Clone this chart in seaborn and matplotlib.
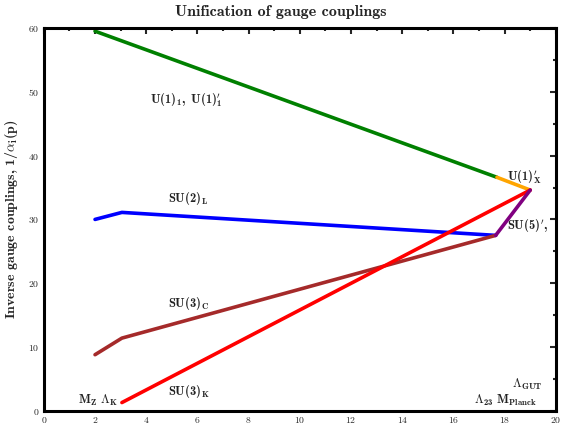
import matplotlib
matplotlib.use("Agg")
import matplotlib.pyplot as plt
import seaborn as sns
import pandas as pd
from matplotlib.ticker import MultipleLocator

sns.set_style("white")
plt.rcParams['font.family'] = ['serif']
plt.rcParams['font.serif'] = ['cmr10', 'DejaVu Serif']
plt.rcParams['mathtext.fontset'] = 'custom'
plt.rcParams['mathtext.rm'] = 'cmr10'
plt.rcParams['mathtext.it'] = 'cmmi10'
plt.rcParams['mathtext.bf'] = 'cmb10'
plt.rcParams['mathtext.fallback'] = 'cm'
plt.rcParams['axes.formatter.use_mathtext'] = True

# Data (log10 scale on x, inverse couplings on y)
u1_x = [2.0, 17.7]
u1_y = [59.5, 36.6]
u1x_x = [17.7, 19.0]
u1x_y = [36.6, 34.6]
su2_x = [2.0, 3.05, 17.65]
su2_y = [30.0, 31.1, 27.5]
su3c_x = [2.0, 3.05, 17.65]
su3c_y = [8.8, 11.4, 27.5]
su3k_x = [3.05, 19.0]
su3k_y = [1.3, 34.6]
su5_x = [17.65, 19.0]
su5_y = [27.5, 34.6]

series = [
    (u1_x, u1_y, '#008000'),
    (u1x_x, u1x_y, '#FFA500'),
    (su2_x, su2_y, '#0000FF'),
    (su3c_x, su3c_y, '#A52A2A'),
    (su3k_x, su3k_y, '#FF0000'),
    (su5_x, su5_y, '#800080'),
]

fig = plt.figure(figsize=(5.62, 4.24), dpi=100)
ax = fig.add_axes([0.078, 0.031, 0.911, 0.903])

for xs, ys, c in series:
    df = pd.DataFrame({'x': xs, 'y': ys})
    sns.lineplot(data=df, x='x', y='y', color=c, linewidth=2.6, sort=False, ax=ax)

ax.set_xlim(0, 20)
ax.set_ylim(0, 60)
ax.xaxis.set_major_locator(MultipleLocator(2))
ax.xaxis.set_minor_locator(MultipleLocator(1))
ax.yaxis.set_major_locator(MultipleLocator(10))
ax.yaxis.set_minor_locator(MultipleLocator(5))
ax.tick_params(which='both', direction='in', top=True, right=True, labelsize=7, width=1.5, pad=3)
ax.tick_params(which='major', length=4)
ax.tick_params(which='minor', length=2.5)
for s in ax.spines.values():
    s.set_linewidth(2.2)
    s.set_color('black')
ax.set_xlabel('')
ax.set_ylabel(r'Inverse gauge couplings, $\mathbf{1/}\alpha_\mathbf{i}\mathbf{(p)}$',
              fontsize=10, family='cmb10', labelpad=6)
fig.text(0.5, 0.955, 'Unification of gauge couplings', fontsize=11.5, family='cmb10',
         ha='center', va='bottom')

fs = 9
labels = [
    (4.14, 48.7, r"$\mathbf{U(1)_1,\ U(1)_1^{\prime}}$"),
    (4.84, 33.3, r"$\mathbf{SU(2)_L}$"),
    (4.84, 16.9, r"$\mathbf{SU(3)_C}$"),
    (4.84, 3.0, r"$\mathbf{SU(3)_K}$"),
    (1.33, 1.6, r"$\mathbf{M_Z}\ \Lambda_\mathbf{K}$"),
    (18.1, 36.7, r"$\mathbf{U(1)_X^{\prime}}$"),
    (18.1, 28.9, r"$\mathbf{SU(5)^{\prime},}$"),
    (18.3, 4.1, r"$\Lambda_\mathbf{GUT}$"),
    (16.8, 1.6, r"$\Lambda_\mathbf{23}\ \mathbf{M_{Planck}}$"),
]
for x, y, t in labels:
    ax.text(x, y, t, fontsize=fs, ha='left', va='center', color='#222222')

fig.savefig('out.png', dpi=100)
